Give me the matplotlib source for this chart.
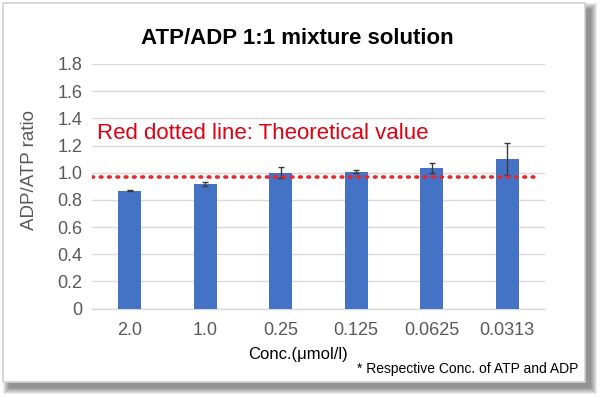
import matplotlib
matplotlib.use("Agg")
import matplotlib.pyplot as plt
from matplotlib.patches import Rectangle

plt.rcParams['font.family'] = ['Liberation Sans', 'DejaVu Sans']

# data
concs = ['2.0', '1.0', '0.25', '0.125', '0.0625', '0.0313']
ratios = [0.867, 0.914, 1.000, 1.007, 1.037, 1.100]
errors = [0.004, 0.015, 0.040, 0.010, 0.037, 0.115]
theory = 0.97
yticks = [0, 0.2, 0.4, 0.6, 0.8, 1.0, 1.2, 1.4, 1.6, 1.8]
ytick_labels = ['0', '0.2', '0.4', '0.6', '0.8', '1.0', '1.2', '1.4', '1.6', '1.8']

W, H = 600, 397
fig = plt.figure(figsize=(W / 100, H / 100), dpi=100)


def box(x0, y0, x1, y1):
    # pixel box (top-left origin) -> figure fraction rect
    return (x0 / W, 1 - y1 / H), (x1 - x0) / W, (y1 - y0) / H


# soft shadow behind the frame
for i in range(7):
    xy, w, h = box(3 + 6 - i, 3 + 6 - i, 585 + 6 + i, 382 + 6 + i)
    fig.patches.append(Rectangle(xy, w, h, transform=fig.transFigure,
                                 facecolor='black', edgecolor='none', alpha=0.075, zorder=0))
xy, w, h = box(3, 3, 585, 382)
fig.patches.append(Rectangle(xy, w, h, transform=fig.transFigure,
                             facecolor='white', edgecolor='#d0d0d0', linewidth=1.2, zorder=1))

ax = fig.add_axes([92 / W, 1 - 308.5 / H, 453 / W, (308.5 - 64) / H])
ax.set_facecolor('none')
ax.set_zorder(2)

x = range(len(concs))
ax.bar(x, ratios, width=0.3, color='#4472c4', zorder=3)
ax.errorbar(x, ratios, yerr=errors, fmt='none', ecolor='#3a3a3a',
            elinewidth=1, capsize=2.5, capthick=1, zorder=4)
ax.axhline(theory, xmin=0, xmax=0.99, color='#e8282e', linewidth=2.6,
           linestyle=(0, (0.45, 1.85)), dash_capstyle='round', zorder=5)

ax.set_xlim(-0.5, len(concs) - 0.5)
ax.set_ylim(0, 1.8)
ax.set_yticks(yticks)
ax.set_yticklabels(ytick_labels)
ax.set_xticks(list(x))
ax.set_xticklabels(concs)
ax.tick_params(length=0, labelsize=13, colors='#595959', pad=7)
ax.tick_params(axis='x', pad=10)
ax.grid(axis='y', color='#d9d9d9', linewidth=1, zorder=0)
for s in ['top', 'right', 'left']:
    ax.spines[s].set_visible(False)
ax.spines['bottom'].set_color('#d9d9d9')
ax.spines['bottom'].set_linewidth(1)

ax.text(0.011, 1.29, 'Red dotted line: Theoretical value', transform=ax.get_yaxis_transform(),
        color='#e00010', fontsize=16, va='center', ha='left')

fig.text(297.5 / W, 1 - 39 / H, 'ATP/ADP 1:1 mixture solution', ha='center', va='center',
         fontsize=16, fontweight='bold', color='black')
fig.text(29 / W, 1 - 170 / H, 'ADP/ATP ratio', rotation=90, ha='center', va='center',
         fontsize=13.5, color='#595959')
fig.text(298 / W, 1 - 354 / H, 'Conc.(\u03bcmol/l)', ha='center', va='center',
         fontsize=12, color='black')
fig.text(357 / W, 1 - 369 / H, '* Respective Conc. of ATP and ADP', ha='left', va='center',
         fontsize=10, color='black')

fig.savefig('out.png', dpi=100, facecolor='white')
